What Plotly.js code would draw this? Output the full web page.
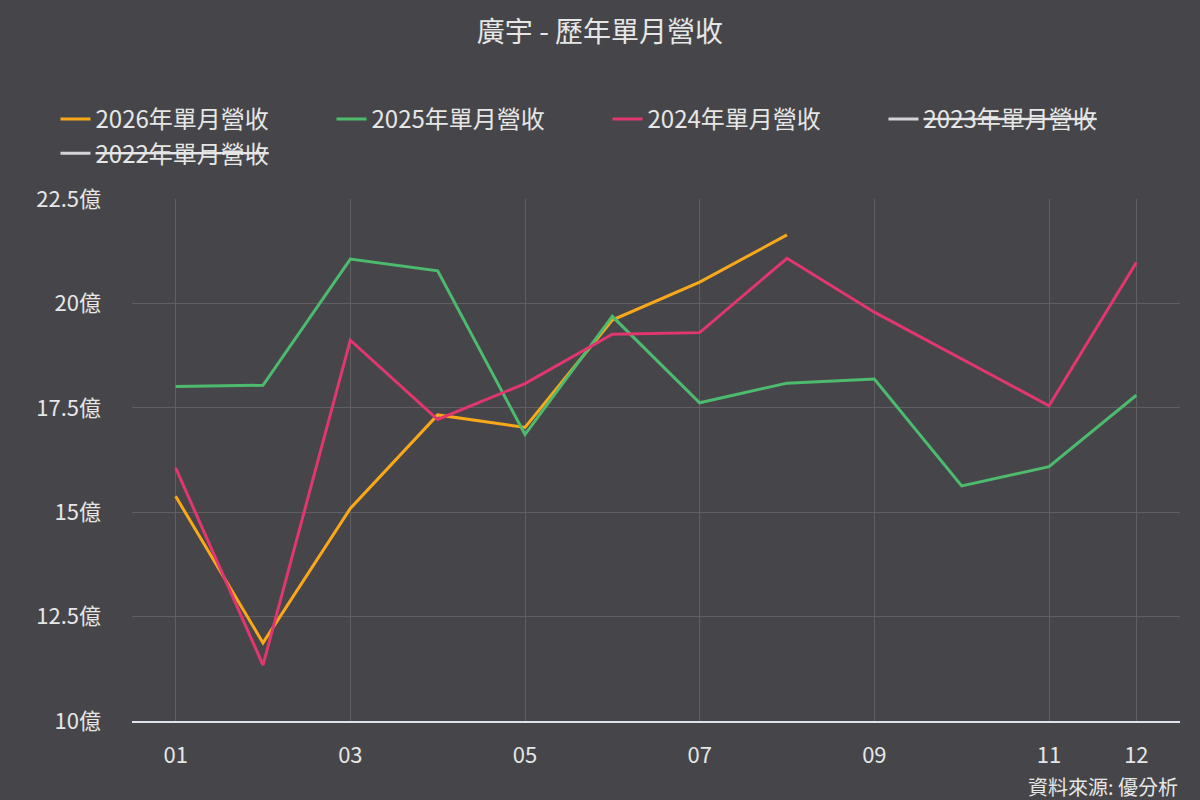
<!DOCTYPE html>
<html>
<head>
<meta charset="utf-8">
<script src="https://cdn.plot.ly/plotly-3.0.1.min.js"></script>
<style>
  html, body { margin: 0; padding: 0; background: #46464a; }
  #chart { width: 1200px; height: 800px; }
</style>
</head>
<body>
<div id="chart"></div>
<script>
  // monthly revenue, unit: 億
  const months = ['01', '02', '03', '04', '05', '06', '07', '08', '09', '10', '11', '12'];
  const rev2026 = [15.38, 11.87, 15.09, 17.33, 17.03, 19.6, 20.51, 21.64, null, null, null, null];
  const rev2025 = [18.01, 18.04, 21.06, 20.78, 16.86, 19.69, 17.62, 18.09, 18.19, 15.63, 16.09, 17.8];
  const rev2024 = [16.06, 11.34, 19.12, 17.22, 18.08, 19.26, 19.3, 21.08, 19.79, 18.68, 17.55, 20.98];
  const rev2023 = [null, null, null, null, null, null, null, null, null, null, null, null];
  const rev2022 = [null, null, null, null, null, null, null, null, null, null, null, null];

  const yTicks = [10, 12.5, 15, 17.5, 20, 22.5];
  const yTickText = ['10億', '12.5億', '15億', '17.5億', '20億', '22.5億'];
  const xTicks = ['01', '03', '05', '07', '09', '11', '12'];

  const fontFamily = '"Noto Sans CJK TC", "Noto Sans", sans-serif';
  const textColor = '#e6e6e6';
  const gridColor = '#5e5e63';

  function line(name, y, color) {
    return {
      x: months,
      y: y,
      name: name,
      type: 'scatter',
      mode: 'lines',
      line: { color: color, width: 3 },
      connectgaps: false,
      hoverinfo: 'skip',
    };
  }

  // hidden years are shown struck through in the legend
  const strike = (s) => '<span style="text-decoration:line-through">' + s + '</span>';

  const traces = [
    line('2026年單月營收', rev2026, '#f9a81a'),
    line('2025年單月營收', rev2025, '#4dbb6d'),
    line('2024年單月營收', rev2024, '#e2366f'),
    line(strike('2023年單月營收'), rev2023, '#d4d4d8'),
    line(strike('2022年單月營收'), rev2022, '#d4d4d8'),
  ];

  const layout = {
    width: 1200,
    height: 800,
    paper_bgcolor: '#46464a',
    plot_bgcolor: '#46464a',
    font: { family: fontFamily, color: textColor, size: 22 },
    margin: { l: 132, r: 20, t: 199, b: 79 },
    title: {
      text: '廣宇 - 歷年單月營收',
      font: { size: 28, color: textColor },
      x: 0.5,
      xanchor: 'center',
      y: 0.96,
      yanchor: 'middle',
    },
    showlegend: true,
    legend: {
      orientation: 'h',
      x: -0.073,
      xanchor: 'left',
      y: 1.12,
      yanchor: 'middle',
      entrywidth: 231,
      entrywidthmode: 'pixels',
      tracegroupgap: 0,
      itemwidth: 30,
      font: { size: 24, color: textColor },
      bgcolor: 'rgba(0,0,0,0)',
    },
    xaxis: {
      type: 'category',
      categoryorder: 'array',
      categoryarray: months,
      range: [-0.5, 11.5],
      tickmode: 'array',
      tickvals: xTicks,
      ticktext: xTicks,
      showgrid: true,
      gridcolor: gridColor,
      gridwidth: 1,
      showline: true,
      linecolor: '#dfe3ee',
      linewidth: 2,
      ticks: '',
      ticklabelstandoff: 14,
      zeroline: false,
      fixedrange: true,
    },
    yaxis: {
      range: [10, 22.5],
      tickmode: 'array',
      tickvals: yTicks,
      ticktext: yTickText,
      showgrid: true,
      gridcolor: gridColor,
      gridwidth: 1,
      zeroline: false,
      ticks: '',
      ticklabelstandoff: 30,
      fixedrange: true,
    },
    annotations: [
      {
        text: '資料來源: 優分析',
        xref: 'paper',
        yref: 'paper',
        x: 1,
        xanchor: 'right',
        y: -0.125,
        yanchor: 'middle',
        showarrow: false,
        font: { size: 20, color: textColor },
      },
    ],
  };

  Plotly.newPlot('chart', traces, layout, { displayModeBar: false, staticPlot: true });
</script>
</body>
</html>
